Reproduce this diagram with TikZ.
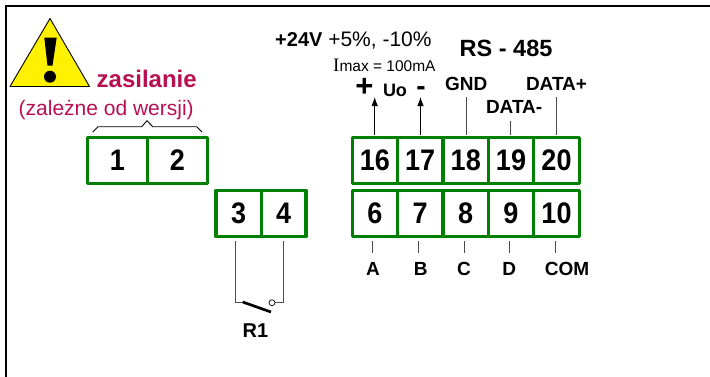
\documentclass[tikz,border=0pt]{standalone}
\usepackage{fontspec}
\usepackage{graphicx}
\setmainfont{Liberation Sans}
\newfontfamily\serifcap{Liberation Serif}
\usetikzlibrary{arrows.meta}
\definecolor{termgreen}{RGB}{0,128,0}
\definecolor{warnred}{RGB}{185,15,80}
\tikzset{
 x=1pt,y=-1pt,
 term/.style={draw=termgreen,line width=3.2pt,line join=round,fill=white,inner sep=0pt,outer sep=0pt,font=\fontsize{27}{27}\selectfont\bfseries},
 lab/.style={inner sep=0pt,outer sep=0pt,font=\fontsize{19}{19}\selectfont\bfseries},
 wire/.style={draw=black!70,line width=.9pt},
 arr/.style={draw=black,line width=.9pt,-{Latex[length=9pt,width=6.5pt]}}
}
\newcommand{\termbox}[6]{\node[term,minimum width=#3pt,minimum height=#4pt,anchor=north west] (#5) at (#1,#2) {\scalebox{1}[1.1]{#6}};}
\begin{document}
\begin{tikzpicture}
\useasboundingbox (0,0) rectangle (710,376);
\draw[line width=2pt] (5.5,376.5) -- (5.5,6) -- (710,6);
% warning
\draw[fill=yellow,line width=.9pt,line join=round] (10,86.5) -- (50,18.5) -- (89.5,86.5) -- cycle;
\fill (44.3,37.5) -- (56.7,37.5) -- (52.5,65.5) -- (47.5,65.5) -- cycle;
\fill (50,76.7) circle (6);
\node[inner sep=0,text=warnred,font=\fontsize{24}{24}\selectfont\bfseries,anchor=base west] (zas) at (96.5,87) {zasilanie};
\node[inner sep=0,text=warnred,font=\fontsize{21}{21}\selectfont,anchor=base west] (zal) at (18.5,115) {(zależne od wersji)};
% terminals
\termbox{87.5}{137.5}{60}{46}{t1}{1}
\termbox{147.5}{137.5}{60}{46}{t2}{2}
\termbox{216}{190.5}{45.5}{46}{t3}{3}
\termbox{261.5}{190.5}{44.5}{46}{t4}{4}
\termbox{352.5}{137.5}{45}{46}{t16}{16}
\termbox{397.5}{137.5}{45.5}{46}{t17}{17}
\termbox{443}{137.5}{45.5}{46}{t18}{18}
\termbox{488.5}{137.5}{45}{46}{t19}{19}
\termbox{533.5}{137.5}{46}{46}{t20}{20}
\termbox{352.5}{190.5}{45}{46}{t6}{6}
\termbox{397.5}{190.5}{45.5}{46}{t7}{7}
\termbox{443}{190.5}{45.5}{46}{t8}{8}
\termbox{488.5}{190.5}{45}{46}{t9}{9}
\termbox{533.5}{190.5}{46}{46}{t10}{10}
% brace
\coordinate (b1) at (92.7,132);
\coordinate (b2) at (202,132);
\draw[line width=.9pt] (b1) -- (98,126.7) -- (141.7,126.7) -- (147,120.7) -- (152.7,126.7) -- (196.7,126.7) -- (b2);
% top texts
\node[inner sep=0,anchor=base west,font=\fontsize{21}{21}\selectfont] (v) at (275,46.7) {{\fontsize{20}{20}\selectfont\bfseries +24V} +5\%, -10\%};
\node[inner sep=0,anchor=base west,font=\fontsize{15.5}{15.5}\selectfont] (imax) at (333,71) {{\serifcap\fontsize{19}{19}\selectfont I}max = 100mA};
\node[inner sep=0,anchor=base west,font=\fontsize{23.5}{23.5}\selectfont\bfseries] (rs) at (459.5,56) {RS - 485};
\node[inner sep=0,anchor=base,font=\fontsize{31}{31}\selectfont\bfseries] (plus) at (364.5,96) {+};
\node[lab,anchor=base west,font=\fontsize{18}{18}\selectfont\bfseries] (uo) at (383,96) {Uo};
\node[inner sep=0,anchor=base,font=\fontsize{28}{28}\selectfont\bfseries] (minus) at (421,95) {-};
\node[lab,anchor=base west] (gnd) at (445,90) {GND};
\node[lab,anchor=base west] (dm) at (486,113) {DATA-};
\node[lab,anchor=base west] (dp) at (526,90) {DATA+};
% connectors top
\coordinate (a16) at (374.7,135);
\coordinate (a17) at (420.5,135);
\coordinate (a16t) at (374.7,97);
\coordinate (a17t) at (420.5,97);
\draw[arr] (a16) -- (a16t);
\draw[arr] (a17) -- (a17t);
\draw[wire] (466,135) -- (466,97);
\draw[wire] (510.5,135) -- (510.5,120.7);
\draw[wire] (556.7,135) -- (556.7,97);
% bottom
\foreach \x/\n/\t/\tx in {372.7/A/A/373,418/B/B/420.7,464.3/C/C/464,509.3/D/D/509.3,555/COM/COM/567}{
 \draw[wire] (\x,241) -- (\x,253);
 \node[lab,anchor=base] (l\n) at (\tx,275) {\t};
}
% switch
\coordinate (s1) at (235.7,241);
\coordinate (s2) at (283.7,241);
\draw[wire] (s1) -- (235.7,302.3) -- (243,302.3);
\draw[wire] (s2) -- (283.7,302.3) -- (275,302.3);
\draw[line width=.7pt,fill=white] (272,302.7) circle (3);
\draw[line width=2.7pt] (242.7,302) -- (271,312);
\node[lab,anchor=base,font=\fontsize{20}{20}\selectfont\bfseries] (r1) at (255.5,337) {R1};
\end{tikzpicture}
\end{document}
